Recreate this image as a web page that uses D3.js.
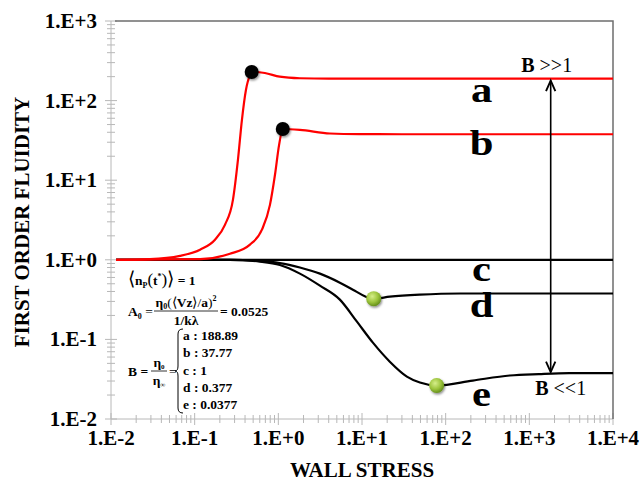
<!DOCTYPE html>
<html><head><meta charset="utf-8">
<script src="https://cdn.jsdelivr.net/npm/d3@7/dist/d3.min.js"></script>
<style>body{margin:0;background:#fff}svg{display:block}text{font-family:"Liberation Serif","Times New Roman",serif}</style>
</head><body><svg id="c" width="643" height="483"></svg>
<script>
// ---- data ----
const xTickValues = [1e-2, 1e-1, 1e0, 1e1, 1e2, 1e3, 1e4];
const xTickLabels = ["1.E-2", "1.E-1", "1.E+0", "1.E+1", "1.E+2", "1.E+3", "1.E+4"];
const yTickValues = [1e-2, 1e-1, 1e0, 1e1, 1e2, 1e3];
const yTickLabels = ["1.E-2", "1.E-1", "1.E+0", "1.E+1", "1.E+2", "1.E+3"];

const curveA = [[0.0115,1.0],[0.0292,1.02],[0.0667,1.12],[0.116,1.34],[0.175,1.79],[0.23,2.75],[0.287,5.7],[0.329,18],[0.367,57],[0.41,136],[0.458,209],[0.48,229],[0.69,222],[1.04,200],[1.81,191],[4,188.89],[1e4,188.89]];
const curveB = [[0.0115,1.0],[0.116,1.02],[0.264,1.19],[0.458,1.55],[0.637,2.39],[0.794,4.9],[0.912,11.7],[1.02,27.6],[1.13,44],[1.81,42.9],[4.14,38.6],[9.3,37.9],[30,37.77],[1e4,37.77]];
const curveC = [[0.0115,1.0],[1e4,1.0]];
const curveD = [[0.0115,1.0],[0.264,1.0],[0.6,0.97],[1.045,0.91],[1.81,0.80],[3.14,0.67],[5.44,0.516],[8.2,0.409],[11.1,0.344],[13.8,0.325],[21.5,0.344],[49.2,0.365],[150,0.377],[1e4,0.377]];
const curveE = [[0.0115,1.0],[0.264,1.0],[0.6,0.95],[1.045,0.86],[1.81,0.67],[3.14,0.473],[5.44,0.316],[8.7,0.167],[13.5,0.091],[21.5,0.0525],[34.4,0.0341],[49.2,0.0287],[78,0.0263],[211,0.0304],[585,0.0352],[1300,0.0367],[3000,0.0377],[1e4,0.0377]];
const seriesNames = ["a", "b", "c", "d", "e"];
const seriesData = [curveA, curveB, curveC, curveD, curveE];
const seriesColors = ["#ff0000", "#ff0000", "#000000", "#000000", "#000000"];
const seriesLabelX = [300, 300, 300, 300, 300];
const seriesLabelY = [188.89, 37.77, 1.0, 0.377, 0.0377];
const seriesLabelDy = [23, 21, 21, 23, 33];
const blackDots = [[0.48, 229], [1.13, 44]];
const greenDots = [[13.8, 0.325], [78, 0.0263]];
const arrowX = 1800;
const arrowRange = [188.89, 0.0377];
const Bvalues = ["a : 188.89", "b : 37.77", "c : 1", "d : 0.377", "e : 0.0377"];

// ---- layout ----
const svg = d3.select("#c");
const L = 111, R = 613, T = 21, B = 419;
const x = d3.scaleLog().domain([1e-2, 1e4]).range([L, R]);
const y = d3.scaleLog().domain([1e-2, 1e3]).range([B, T]);

const defs = svg.append("defs");
const g1 = defs.append("radialGradient").attr("id", "gr").attr("cx", "40%").attr("cy", "35%").attr("r", "65%");
g1.append("stop").attr("offset", "0%").attr("stop-color", "#d6ee8a");
g1.append("stop").attr("offset", "60%").attr("stop-color", "#9cc43c");
g1.append("stop").attr("offset", "100%").attr("stop-color", "#66901c");
const f = defs.append("filter").attr("id", "sh").attr("x", "-50%").attr("y", "-50%").attr("width", "200%").attr("height", "200%");
f.append("feDropShadow").attr("dx", 1).attr("dy", 1.5).attr("stdDeviation", 1.2).attr("flood-color", "#000").attr("flood-opacity", 0.45);
["s", "e"].forEach(k => {
  defs.append("marker").attr("id", "ar" + k).attr("markerUnits", "userSpaceOnUse")
    .attr("markerWidth", 14).attr("markerHeight", 14).attr("refX", 10).attr("refY", 5)
    .attr("orient", "auto-start-reverse").attr("viewBox", "0 0 12 10")
    .append("path").attr("d", "M1,1 L10,5 L1,9").attr("fill", "none").attr("stroke", "#000").attr("stroke-width", 1.6);
});

// minor ticks
const xMinor = [], yMinor = [];
for (let e = -2; e < 4; e++) for (let m = 2; m <= 9; m++) xMinor.push(m * Math.pow(10, e));
for (let e = -2; e < 3; e++) for (let m = 2; m <= 9; m++) yMinor.push(m * Math.pow(10, e));

const axG = svg.append("g").attr("stroke", "#b8b8b8").attr("stroke-width", 1);
axG.append("line").attr("x1", L).attr("x2", L).attr("y1", T).attr("y2", B);
axG.append("line").attr("x1", L).attr("x2", R).attr("y1", B).attr("y2", B);
axG.selectAll(".xm").data(xMinor).join("line").attr("x1", d => x(d)).attr("x2", d => x(d)).attr("y1", B - 4).attr("y2", B + 4);
axG.selectAll(".xM").data(xTickValues).join("line").attr("x1", d => x(d)).attr("x2", d => x(d)).attr("y1", B - 6).attr("y2", B + 6);
axG.selectAll(".ym").data(yMinor).join("line").attr("y1", d => y(d)).attr("y2", d => y(d)).attr("x1", L - 4).attr("x2", L + 4);
axG.selectAll(".yM").data(yTickValues).join("line").attr("y1", d => y(d)).attr("y2", d => y(d)).attr("x1", L - 6).attr("x2", L + 6);

// frame top/right
svg.append("path").attr("d", `M${L + 4},${T} L${R},${T} L${R},${B}`).attr("fill", "none").attr("stroke", "#6e6e6e").attr("stroke-width", 1.5);

// tick labels
svg.selectAll(".xl").data(xTickValues).join("text").attr("x", d => x(d)).attr("y", B + 26)
  .attr("text-anchor", "middle").attr("font-size", 21).attr("font-weight", "bold").text((d, i) => xTickLabels[i]);
svg.selectAll(".yl").data(yTickValues).join("text").attr("x", 97).attr("y", d => y(d) + 7)
  .attr("text-anchor", "end").attr("font-size", 21).attr("font-weight", "bold").text((d, i) => yTickLabels[i]);

// axis titles
svg.append("text").attr("x", 362).attr("y", 477).attr("text-anchor", "middle").attr("font-size", 21).attr("font-weight", "bold").text("WALL STRESS");
svg.append("text").attr("transform", "translate(29,222) rotate(-90)").attr("text-anchor", "middle").attr("font-size", 21).attr("font-weight", "bold").text("FIRST ORDER FLUIDITY");

// curves
const line = d3.line().x(d => x(d[0])).y(d => y(d[1])).curve(d3.curveMonotoneX);
const order = [2, 3, 4, 1, 0];
order.forEach(i => {
  svg.append("path").attr("d", line(seriesData[i])).attr("fill", "none").attr("stroke", seriesColors[i]).attr("stroke-width", 2.2);
});

// series labels
seriesNames.forEach((n, i) => {
  svg.append("text")
    .attr("transform", `translate(${x(seriesLabelX[i]) - 4},${y(seriesLabelY[i]) + seriesLabelDy[i]}) scale(1.22,1)`)
    .attr("text-anchor", "middle").attr("font-size", 35).attr("font-weight", "bold").text(n);
});

// dots
svg.selectAll(".bd").data(blackDots).join("circle").attr("cx", d => x(d[0])).attr("cy", d => y(d[1])).attr("r", 7)
  .attr("fill", "#000").attr("filter", "url(#sh)");
svg.selectAll(".gd").data(greenDots).join("circle").attr("cx", d => x(d[0])).attr("cy", d => y(d[1])).attr("r", 7.5)
  .attr("fill", "url(#gr)").attr("filter", "url(#sh)");

// double arrow
svg.append("line").attr("x1", x(arrowX)).attr("x2", x(arrowX)).attr("y1", y(arrowRange[0]) + 2).attr("y2", y(arrowRange[1]) - 1)
  .attr("stroke", "#000").attr("stroke-width", 1.6).attr("marker-start", "url(#ars)").attr("marker-end", "url(#are)");
const t1 = svg.append("text").attr("x", x(arrowX) - 4).attr("y", y(arrowRange[0]) - 7).attr("text-anchor", "middle").attr("font-size", 20);
t1.append("tspan").attr("font-weight", "bold").text("B ");
t1.append("tspan").text(">>1");
const t2 = svg.append("text").attr("x", x(arrowX) + 10).attr("y", y(arrowRange[1]) + 22).attr("text-anchor", "middle").attr("font-size", 20);
t2.append("tspan").attr("font-weight", "bold").text("B ");
t2.append("tspan").text("<<1");

// equations
const eq = svg.append("g").attr("font-weight", "bold").attr("font-size", 13.5);
const e1 = eq.append("text").attr("x", 128).attr("y", 285);
e1.append("tspan").attr("font-size", 19).attr("font-weight", "normal").text("\u27E8");
e1.append("tspan").text("n");
e1.append("tspan").attr("font-size", 8).attr("dy", 3).text("P");
e1.append("tspan").attr("dy", -3).attr("font-size", 17).attr("font-weight", "normal").text("(");
e1.append("tspan").text("t");
e1.append("tspan").attr("font-size", 8).attr("dy", -6).text("*");
e1.append("tspan").attr("dy", 6).attr("font-size", 17).attr("font-weight", "normal").text(")");
e1.append("tspan").attr("font-size", 19).attr("font-weight", "normal").text("\u27E9");
e1.append("tspan").text(" = 1");

const e2 = eq.append("text").attr("x", 128).attr("y", 316);
e2.append("tspan").text("A");
e2.append("tspan").attr("font-size", 8).attr("dy", 3).text("0");
e2.append("tspan").attr("dy", -3).attr("font-weight", "normal").text(" =");
const num = eq.append("text").attr("x", 186).attr("y", 307).attr("text-anchor", "middle");
num.append("tspan").text("\u03B7");
num.append("tspan").attr("font-size", 8).attr("dy", 2).text("0");
num.append("tspan").attr("dy", -2).attr("font-weight", "normal").text("(\u27E8");
num.append("tspan").text("Vz");
num.append("tspan").attr("font-weight", "normal").text("\u27E9/");
num.append("tspan").text("a");
num.append("tspan").attr("font-weight", "normal").text(")");
num.append("tspan").attr("font-size", 8).attr("dy", -6).text("2");
eq.append("line").attr("x1", 154).attr("x2", 218).attr("y1", 311).attr("y2", 311).attr("stroke", "#000").attr("stroke-width", 0.8);
eq.append("text").attr("x", 186).attr("y", 325).attr("text-anchor", "middle").text("1/k\u03BB");
eq.append("text").attr("x", 220).attr("y", 316).text("= 0.0525");

eq.append("text").attr("x", 128).attr("y", 376).text("B =");
const fn = eq.append("text").attr("x", 159).attr("y", 367).attr("text-anchor", "middle");
fn.append("tspan").text("\u03B7");
fn.append("tspan").attr("font-size", 7).attr("dy", 2).text("0");
eq.append("line").attr("x1", 151).attr("x2", 167).attr("y1", 371).attr("y2", 371).attr("stroke", "#000").attr("stroke-width", 0.8);
const fd = eq.append("text").attr("x", 159).attr("y", 385).attr("text-anchor", "middle");
fd.append("tspan").text("\u03B7");
fd.append("tspan").attr("font-size", 7).attr("dy", 2).text("\u221E");
eq.append("text").attr("x", 169).attr("y", 376).attr("font-weight", "normal").text("=");
eq.append("path").attr("d", "M183,329 Q178,329 178,334 L178,366 Q178,371 175,371 Q178,371 178,376 L178,408 Q178,413 183,413")
  .attr("fill", "none").attr("stroke", "#000").attr("stroke-width", 1);
eq.selectAll(".bv").data(Bvalues).join("text").attr("x", 183).attr("y", (d, i) => 340 + i * 17.3).text(d => d);
</script></body></html>
